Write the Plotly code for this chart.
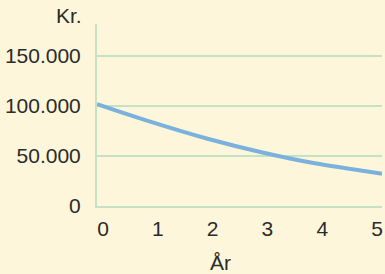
import plotly.graph_objects as go

years = [0, 1, 2, 3, 4, 5, 5.2]
values = [101700, 83700, 67400, 53700, 42400, 34000, 32300]
x_ticks = [0, 1, 2, 3, 4, 5]
y_ticks = [0, 50000, 100000, 150000]
y_tick_labels = ["0", "50.000", "100.000", "150.000"]

bg = "#FDF6DA"
grid = "#C6E2C4"
txt = "#2B2B2B"
font = dict(family="Liberation Sans, Arial, sans-serif", size=21, color=txt)

fig = go.Figure()
fig.add_trace(go.Scatter(
    x=years, y=values, mode="lines",
    line=dict(color="#7BB1DD", width=4, shape="spline"),
    hoverinfo="skip", showlegend=False,
))

fig.update_layout(
    width=385, height=274,
    margin=dict(l=97, r=3, t=24, b=68),
    paper_bgcolor=bg, plot_bgcolor=bg,
    font=font,
    showlegend=False,
    xaxis=dict(
        range=[0, 5.2], tickvals=x_ticks, ticktext=[str(v) for v in x_ticks],
        showgrid=False, zeroline=False, showline=True, linecolor=grid, linewidth=2,
        ticks="", ticklabelshift=6, ticklabelstandoff=3, fixedrange=True,
        automargin=False,
    ),
    yaxis=dict(
        range=[0, 181700], tickvals=y_ticks, ticktext=y_tick_labels,
        showgrid=True, gridcolor=grid, gridwidth=2, zeroline=False,
        showline=True, linecolor=grid, linewidth=2, ticks="", fixedrange=True,
        ticklabelstandoff=10, automargin=False,
    ),
    annotations=[
        dict(text="Kr.", xref="paper", yref="paper", x=0, y=1, xanchor="right",
             yanchor="middle", xshift=-13, yshift=9, showarrow=False, font=font),
        dict(text="År", xref="paper", yref="paper", x=0.432, y=0, xanchor="center",
             yanchor="middle", yshift=-56, showarrow=False, font=font),
    ],
)

fig.write_html(
    "out.html",
    config={"displayModeBar": False},
    post_script="document.body.style.margin='0';",
)
